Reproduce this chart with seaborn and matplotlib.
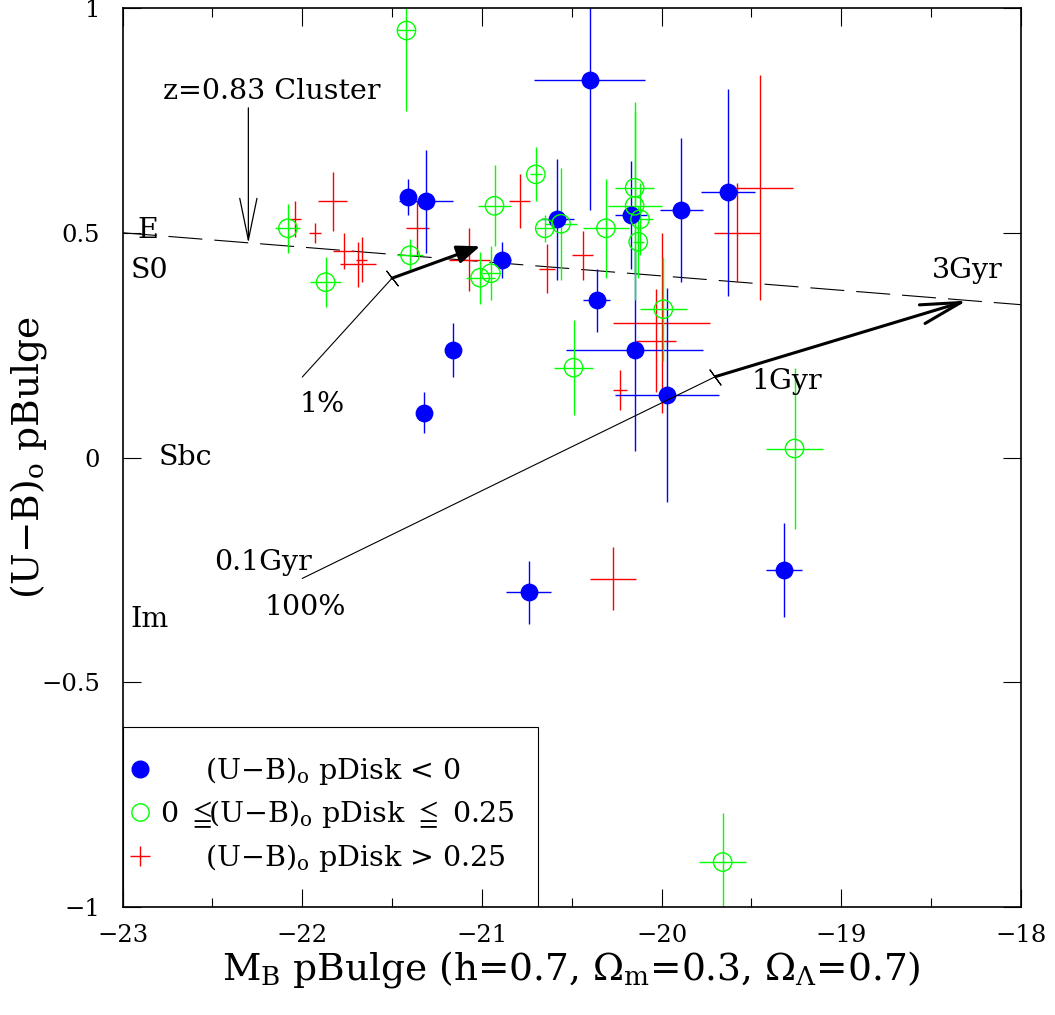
import numpy as np
import pandas as pd
import matplotlib
matplotlib.use("Agg")
import matplotlib.pyplot as plt
from matplotlib.ticker import MultipleLocator, FuncFormatter
from matplotlib.lines import Line2D
from matplotlib.patches import Rectangle
import seaborn as sns

# ---------------- data ----------------
# (U-B)o pDisk < 0  (blue, filled)
blue_x = [-21.41, -21.31, -20.40, -21.16, -21.32, -20.89, -20.58, -20.36, -20.17,
          -19.89, -19.63, -20.15, -19.97, -20.74, -19.32]
blue_y = [0.58, 0.57, 0.84, 0.24, 0.10, 0.44, 0.53, 0.35, 0.54,
          0.55, 0.59, 0.24, 0.14, -0.30, -0.25]
blue_xerr = [0.03, 0.15, 0.31, 0.04, 0.035, 0.05, 0.09, 0.075, 0.09,
             0.12, 0.15, 0.38, 0.29, 0.125, 0.10]
blue_yerr = [0.04, 0.115, 0.29, 0.06, 0.045, 0.04, 0.135, 0.07, 0.12,
             0.16, 0.23, 0.225, 0.238, 0.07, 0.105]

# 0 <= (U-B)o pDisk <= 0.25  (green, open)
green_x = [-21.42, -22.08, -21.87, -21.40, -20.93, -20.70, -21.01, -20.95, -20.65,
           -20.56, -20.31, -20.15, -20.15, -20.12, -20.13, -20.49, -19.99, -19.26, -19.66]
green_y = [0.95, 0.51, 0.39, 0.45, 0.56, 0.63, 0.40, 0.41, 0.51,
           0.52, 0.51, 0.60, 0.56, 0.53, 0.48, 0.20, 0.33, 0.02, -0.90]
green_xerr = [0.05, 0.07, 0.085, 0.07, 0.09, 0.035, 0.08, 0.05, 0.05,
              0.09, 0.13, 0.11, 0.15, 0.07, 0.03, 0.11, 0.13, 0.16, 0.13]
green_yerr = [0.18, 0.055, 0.055, 0.037, 0.09, 0.06, 0.058, 0.06, 0.03,
              0.125, 0.11, 0.19, 0.21, 0.08, 0.08, 0.105, 0.115, 0.18, 0.11]

# (U-B)o pDisk > 0.25  (red, cross only)
red_x = [-22.04, -21.83, -21.93, -21.77, -21.69, -21.67, -21.36, -21.07, -20.79,
         -20.64, -20.44, -19.45, -19.58, -20.23, -20.27, -20.03, -20.00]
red_y = [0.53, 0.57, 0.50, 0.46, 0.43, 0.44, 0.51, 0.44, 0.57,
         0.42, 0.45, 0.60, 0.50, 0.15, -0.27, 0.26, 0.30]
red_xerr = [0.035, 0.08, 0.035, 0.06, 0.10, 0.03, 0.065, 0.115, 0.06,
            0.045, 0.06, 0.18, 0.13, 0.04, 0.13, 0.11, 0.27]
red_yerr = [0.04, 0.065, 0.022, 0.04, 0.05, 0.05, 0.06, 0.07, 0.06,
            0.055, 0.055, 0.25, 0.11, 0.045, 0.07, 0.115, 0.20]

# colour-magnitude relation (dashed)
cmr_x = [-23.0, -18.0]
cmr_y = [0.50, 0.34]

# model tracks: start, kink (1 Gyr), tip (3 Gyr)
track1_x = [-22.00, -21.50, -21.01]   # 1% burst
track1_y = [0.179, 0.399, 0.470]
track2_x = [-22.00, -19.70, -18.30]   # 100% burst
track2_y = [-0.269, 0.180, 0.349]

# cluster arrow
cluster_x = -22.30
cluster_y = [0.778, 0.477]

# labels
type_labels = ["E", "S0", "Sbc", "Im"]
type_x = [-22.86, -22.85, -22.65, -22.85]
type_y = [0.505, 0.417, 0.0, -0.361]
note_labels = ["1%", "0.1Gyr", "100%", "1Gyr", "3Gyr", "z=0.83 Cluster"]
note_x = [-21.89, -22.22, -21.985, -19.30, -18.30, -22.17]
note_y = [0.118, -0.233, -0.333, 0.168, 0.417, 0.814]

x_ticks = [-23, -22, -21, -20, -19, -18]
y_ticks = [-1, -0.5, 0, 0.5, 1]

# ---------------- style ----------------
sns.set_theme(style="ticks")
plt.rcParams.update({
    "font.family": ["DejaVu Serif", "DejaVu Sans"],
    "mathtext.fontset": "dejavuserif",
    "text.color": "black",
    "axes.edgecolor": "black",
    "axes.labelcolor": "black",
    "xtick.color": "black",
    "ytick.color": "black",
    "axes.linewidth": 1.2,
})

fig = plt.figure(figsize=(10.55, 10.15), dpi=100)
ax = fig.add_axes([0.1162, 0.1064, 0.8515, 0.8857])

# error bars
for col, xs, ys, xe, ye in [("red", red_x, red_y, red_xerr, red_yerr),
                            ("blue", blue_x, blue_y, blue_xerr, blue_yerr),
                            ("lime", green_x, green_y, green_xerr, green_yerr)]:
    ax.errorbar(xs, ys, xerr=xe, yerr=ye, fmt="none", ecolor=col,
                elinewidth=1.0, capsize=0, zorder=2)

df_blue = pd.DataFrame({"M": blue_x, "UB": blue_y})
df_green = pd.DataFrame({"M": green_x, "UB": green_y})
sns.scatterplot(data=df_blue, x="M", y="UB", ax=ax, color="blue", marker="o",
                s=165, edgecolor="blue", linewidth=0, zorder=3, legend=False)
sns.scatterplot(data=df_green, x="M", y="UB", ax=ax, facecolor="none", marker="o",
                s=175, edgecolor="lime", linewidth=1.0, zorder=3, legend=False)

# dashed relation
ax.plot(cmr_x, cmr_y, color="black", lw=0.8, ls=(0, (30.6, 10.8)), zorder=1)

# tracks
ax.plot(track1_x[:2], track1_y[:2], color="black", lw=0.8, zorder=4)
ax.plot(track2_x[:2], track2_y[:2], color="black", lw=0.8, zorder=4)
ax.plot([track1_x[1]], [track1_y[1]], ls="none", marker=(2, 2, 38), ms=14,
        mec="black", mew=0.8, zorder=4)
ax.plot([track2_x[1]], [track2_y[1]], ls="none", marker=(2, 2, 36), ms=14,
        mec="black", mew=0.8, zorder=4)
ax.annotate("", xy=(track1_x[2], track1_y[2]), xytext=(track1_x[1], track1_y[1]),
            arrowprops=dict(arrowstyle="-|>,head_length=1.4,head_width=0.55",
                            mutation_scale=10, lw=2.2, color="black",
                            shrinkA=0, shrinkB=0), zorder=4)
ax.annotate("", xy=(track2_x[2], track2_y[2]), xytext=(track2_x[1], track2_y[1]),
            arrowprops=dict(arrowstyle="->,head_length=2.9,head_width=0.7",
                            mutation_scale=10, lw=2.2, color="black",
                            shrinkA=0, shrinkB=0), zorder=4)
ax.annotate("", xy=(cluster_x, cluster_y[1]), xytext=(cluster_x, cluster_y[0]),
            arrowprops=dict(arrowstyle="->,head_length=3.0,head_width=0.62",
                            mutation_scale=10, lw=0.9, color="black",
                            shrinkA=0, shrinkB=0), zorder=4)

for t, x, y in zip(type_labels, type_x, type_y):
    ax.text(x, y, t, ha="center", va="center", fontsize=20.5)
for t, x, y in zip(note_labels, note_x, note_y):
    ax.text(x, y, t, ha="center", va="center", fontsize=20.5)

# axes
ax.set_xlim(-23, -18)
ax.set_ylim(-1, 1)
ax.set_xticks(x_ticks)
ax.set_yticks(y_ticks)
ax.xaxis.set_minor_locator(MultipleLocator(0.5))
fmt = FuncFormatter(lambda v, p: ("%g" % v).replace("-", "\u2212"))
ax.xaxis.set_major_formatter(fmt)
ax.yaxis.set_major_formatter(fmt)
ax.tick_params(which="both", direction="in", top=True, right=True, width=0.8)
ax.tick_params(which="major", length=13, labelsize=17.5)
ax.tick_params(which="minor", length=6.5)
ax.tick_params(axis="x", which="major", pad=12)
ax.tick_params(axis="y", which="major", pad=16)

ax.set_xlabel(r"M$_{\rm B}$ pBulge (h=0.7, $\Omega_{\rm m}$=0.3, $\Omega_\Lambda$=0.7)",
              fontsize=27, labelpad=2)
ax.set_ylabel(r"(U$-$B)$_{\rm o}$ pBulge", fontsize=27)
ax.yaxis.set_label_coords(-0.082, 0.5)

# legend
handles = [
    Line2D([], [], ls="none", marker="o", ms=12, mfc="blue", mec="blue"),
    Line2D([], [], ls="none", marker="o", ms=12.5, mfc="none", mec="lime", mew=1),
    Line2D([], [], ls="none", marker="+", ms=15, mec="red", mew=1),
]
pad = "     "
labels = [pad + r"(U$-$B)$_{\rm o}$ pDisk < 0",
          r"0 $\leqq\!\!$(U$-$B)$_{\rm o}$ pDisk $\leqq$ 0.25",
          pad + r"(U$-$B)$_{\rm o}$ pDisk > 0.25"]
ax.legend(handles, labels, loc="center left", bbox_to_anchor=(0, 0.103),
          frameon=False, borderaxespad=0, borderpad=0.2, handlelength=0.82,
          handletextpad=0.3, labelspacing=0.4, fontsize=20.5)
ax.add_patch(Rectangle((0, 0), 0.4624, 0.2002, transform=ax.transAxes,
                       fill=False, ec="black", lw=0.8, zorder=5))

fig.savefig("out.png", dpi=100)
